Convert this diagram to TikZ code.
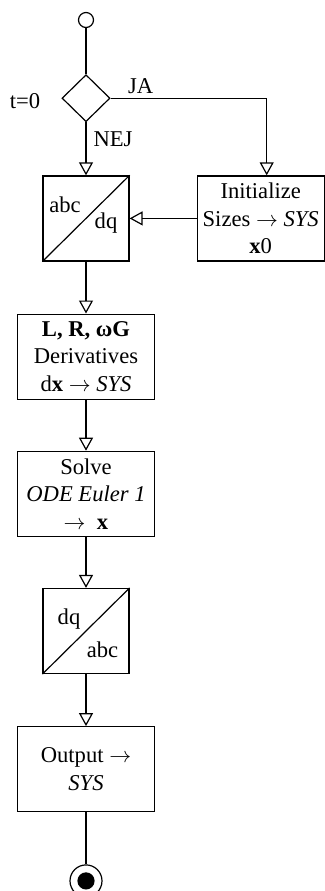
\documentclass[tikz,border=0pt]{standalone}
\usepackage{fontspec}
\setmainfont{Liberation Serif}
\usepackage{tikz}
\usetikzlibrary{arrows.meta, positioning, shapes.geometric}

\begin{document}
\begin{tikzpicture}[
        font=\fontsize{11.3}{13.7}\selectfont,
        line width=0.6pt,
        flow/.style={-{Triangle[open, length=6.5pt, width=7pt]}},
        blk/.style={draw, minimum width=68.5pt, minimum height=42.5pt, inner sep=1pt, align=center},
        conv/.style={draw, minimum width=43pt, minimum height=42.5pt, inner sep=0pt},
        tag/.style={inner sep=1pt}
    ]
            \useasboundingbox (0,0) rectangle (162.5pt,-445.5pt);

            \node (start) [draw, circle, minimum size=7.5pt, inner sep=0pt] at (43pt,-10pt) {};
            \node (test) [draw, diamond, aspect=1, minimum width=24pt, minimum height=23.5pt, inner sep=0pt, below=23pt of start] {};
            \node (cond) [tag, yshift=-1.3pt, left=9.3pt of test] {t=0};
            \node (yes) [tag, anchor=south west] at ([shift={(7.5pt,1pt)}]test.east) {JA};
            \node (no) [tag, anchor=north west] at ([shift={(2.5pt,-3.5pt)}]test.south) {NEJ};

            \node (abc_dq) [conv, below=26.5pt of test] {};
            \node (abc_dq_in) [tag] at ([shift={(-10.5pt,7pt)}]abc_dq.center) {abc};
            \node (abc_dq_out) [tag] at ([shift={(10pt,-2.5pt)}]abc_dq.center) {dq};
            \draw (abc_dq.south west) -- (abc_dq.north east);

            \node (init) [blk, minimum width=63.5pt, right=33.5pt of abc_dq] {Initialize\\ Sizes $\rightarrow$ \textit{SYS}\\ \textbf{x}0};

            \node (model) [blk, below=26pt of abc_dq] {\textbf{L, R, ωG}\\ Derivatives\\ d\textbf{x} $\rightarrow$ \textit{SYS}};
            \node (solve) [blk, below=25.5pt of model] {Solve\\ \textit{ODE Euler 1}\\ $\rightarrow$\ \ \textbf{x}};

            \node (dq_abc) [conv, below=25.5pt of solve] {};
            \node (dq_abc_in) [tag] at ([shift={(-8.5pt,6pt)}]dq_abc.center) {dq};
            \node (dq_abc_out) [tag] at ([shift={(8.25pt,-9.5pt)}]dq_abc.center) {abc};
            \draw (dq_abc.south west) -- (dq_abc.north east);

            \node (output) [blk, below=26pt of dq_abc] {Output $\rightarrow$\\ \textit{SYS}};
            \node (stop) [draw, circle, minimum size=16pt, inner sep=0pt, below=26pt of output] {};
            \fill (stop.center) circle (4.3pt);

            % connectors
            \draw (start) -- (test);
            \draw[flow] (test) -- (abc_dq);
            \draw[flow] (test.east) -| ([xshift=3pt]init.north);
            \draw[flow] (init) -- (abc_dq);
            \draw[flow] (abc_dq) -- (model);
            \draw[flow] (model) -- (solve);
            \draw[flow] (solve) -- (dq_abc);
            \draw[flow] (dq_abc) -- (output);
            \draw (output) -- (stop);
\end{tikzpicture}
\end{document}
